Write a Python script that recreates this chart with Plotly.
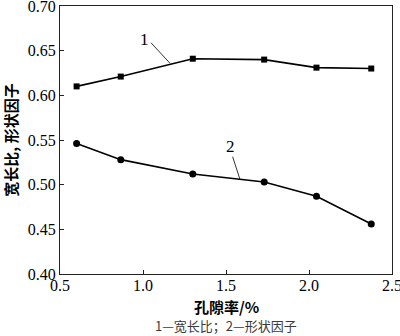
import plotly.graph_objects as go

# Porosity (%) and measured values
porosity = [0.60, 0.866, 1.30, 1.73, 2.045, 2.375]
aspect_ratio = [0.610, 0.621, 0.641, 0.640, 0.631, 0.630]
shape_factor = [0.546, 0.528, 0.512, 0.503, 0.487, 0.456]

x_ticks = [0.5, 1.0, 1.5, 2.0, 2.5]
y_ticks = [0.40, 0.45, 0.50, 0.55, 0.60, 0.65, 0.70]

serif = "Times New Roman"
cjk = "Noto Sans CJK SC"

fig = go.Figure()
fig.add_trace(go.Scatter(
    x=porosity, y=aspect_ratio, mode="lines+markers",
    line=dict(color="black", width=1.6),
    marker=dict(symbol="square", size=6, color="black"),
    showlegend=False, cliponaxis=False))
fig.add_trace(go.Scatter(
    x=porosity, y=shape_factor, mode="lines+markers",
    line=dict(color="black", width=1.6),
    marker=dict(symbol="circle", size=7, color="black"),
    showlegend=False, cliponaxis=False))

# Curve labels with leader lines
for txt, (tx, ty), (x0, y0, x1, y1) in [
    ("1", (1.012, 0.662), (1.048, 0.6589, 1.163, 0.6358)),
    ("2", (1.528, 0.5425), (1.540, 0.5313, 1.584, 0.5060)),
]:
    fig.add_annotation(x=tx, y=ty, text=txt, showarrow=False,
                       font=dict(family=serif, size=17, color="black"))
    fig.add_shape(type="line", x0=x0, y0=y0, x1=x1, y1=y1,
                  line=dict(color="black", width=0.8))

# x-axis title and caption underneath
fig.add_annotation(x=0.5, y=-0.123, xref="paper", yref="paper",
                   xanchor="center", yanchor="middle",
                   text="<b>孔隙率/%</b>", showarrow=False,
                   font=dict(family=cjk, size=15, color="black"))
fig.add_annotation(x=0.5, y=-0.194, xref="paper", yref="paper",
                   xanchor="center", yanchor="middle",
                   text="1—宽长比；2—形状因子", showarrow=False,
                   font=dict(family=cjk, size=13, color="#3a3a3a"))

axis_common = dict(
    showline=True, linecolor="#222", linewidth=1, mirror=True,
    ticks="inside", ticklen=4, tickcolor="#222", showgrid=False,
    zeroline=False, automargin=False, ticklabeloverflow="allow",
    tickfont=dict(family=serif, size=16, color="black"),
)

fig.update_xaxes(range=[0.5, 2.5], tickvals=x_ticks,
                 ticktext=[f"{v:.1f}" for v in x_ticks],
                 ticklabelstandoff=-3,
                 **axis_common)
fig.update_yaxes(range=[0.40, 0.70], tickvals=y_ticks,
                 ticktext=[f"{v:.2f}" for v in y_ticks],
                 title=dict(text="<b>宽长比, 形状因子</b>", standoff=6,
                            font=dict(family=cjk, size=15, color="black")),
                 **axis_common)

fig.update_layout(
    width=400, height=336,
    margin=dict(l=60, r=8, t=6, b=62),
    paper_bgcolor="white", plot_bgcolor="white",
)

fig.write_html("out.html")
